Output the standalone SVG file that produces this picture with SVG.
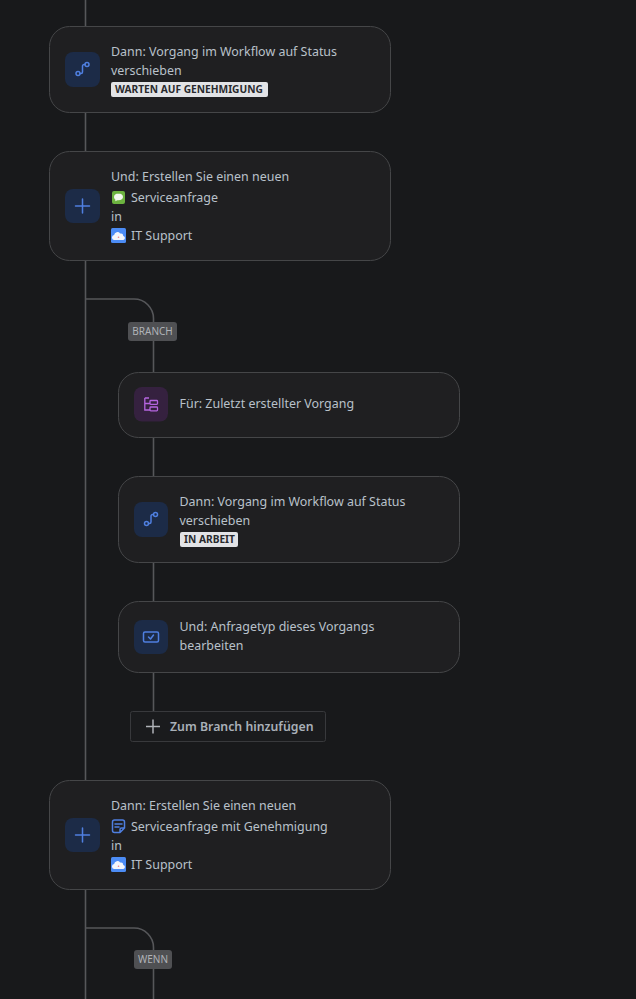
<svg xmlns="http://www.w3.org/2000/svg" width="636" height="999" viewBox="0 0 636 999">
<style>
.card{fill:#1f1f21;stroke:#454648;stroke-width:1}
.ln{fill:none;stroke:#56575a;stroke-width:1.6}
.t{font-family:"Noto Sans","Liberation Sans",sans-serif;font-size:12.45px;fill:#b9c1ca}
.tile-b{fill:#1c2b47}
.tile-p{fill:#35213f}
.ic{fill:none;stroke:#4f7fe0;stroke-width:1.5;stroke-linecap:round;stroke-linejoin:round}
.lz{fill:#e2e3e6}
.lzt{font-family:"Noto Sans","Liberation Sans",sans-serif;font-size:10.2px;font-weight:700;fill:#292a2e}
.tag{fill:#4f5053}
.tagt{font-family:"Noto Sans","Liberation Sans",sans-serif;font-size:10px;fill:#b0b3b8}
</style>
<defs>
<g id="cloud"><rect width="15" height="15" rx="1.500" fill="#4c8cf5"/><path d="M3 12a2.600 2.600 0 0 1 .1-5.100 3.300 3.300 0 0 1 6-1.300 2.600 2.600 0 0 1 3.200 2.300 2.100 2.100 0 0 1 0 4.100z" fill="#f4f6fa"/><circle cx="7.500" cy="9.200" r=".8" fill="#e9808a"/></g>
<g id="route"><circle cx="-4.500" cy="4.500" r="2" class="ic"/><circle cx="4.500" cy="-4.500" r="2" class="ic"/><path class="ic" d="M-2.500 4.500h1a1.500 1.500 0 0 0 1.500-1.500v-6a1.500 1.500 0 0 1 1.500-1.500h1"/></g>
<g id="plus"><path class="ic" d="M-7 0h14M0-7v14"/></g>
</defs>
<rect width="636" height="999" fill="#18191b"/>
<g id="connectors">
<path class="ln" d="M85.500 0V26M85.500 112V152M85.500 260V780M85.500 889V999"/>
<path class="ln" d="M85.500 299H134a19.500 19.500 0 0 1 19.500 19.500V372M153.500 437V476M153.500 562V601M153.500 672V711"/>
<path class="ln" d="M85.500 928H134a19.500 19.500 0 0 1 19.500 19.500V999"/>
</g>
<g id="tag-branch"><rect x="128" y="322" width="49" height="19" rx="3" class="tag"/><text x="152.500" y="335" text-anchor="middle" class="tagt">BRANCH</text></g>
<g id="tag-wenn"><rect x="134" y="950" width="38" height="19" rx="3" class="tag"/><text x="153" y="963" text-anchor="middle" class="tagt">WENN</text></g>
<g id="node-1">
<rect x="49.500" y="26.500" width="341" height="86" rx="20" class="card"/>
<rect x="65" y="52" width="35" height="35" rx="8" class="tile-b"/><use href="#route" x="82.500" y="69"/>
<text x="111" y="56" class="t">Dann: Vorgang im Workflow auf Status</text>
<text x="111" y="75" class="t">verschieben</text>
<rect x="111" y="82" width="157" height="15" rx="2" class="lz"/><text x="115" y="93" class="lzt">WARTEN AUF GENEHMIGUNG</text>
</g>
<g id="node-2">
<rect x="49.500" y="151.500" width="341" height="109" rx="20" class="card"/>
<rect x="65" y="189" width="35" height="34" rx="8" class="tile-b"/><use href="#plus" x="82.500" y="206"/>
<text x="111" y="181" class="t">Und: Erstellen Sie einen neuen</text>
<rect x="112" y="191" width="13" height="13" rx="2" fill="#6cb33f"/><path d="M118.500 193.500c-2.800 0-4.500 1.500-4.500 3.500 0 1.200.6 2.100 1.500 2.700l-.3 1.600 2.200-1c3.600.4 5.600-1.300 5.600-3.300s-1.700-3.500-4.500-3.500z" fill="#f2f7ee"/>
<text x="131" y="202" class="t">Serviceanfrage</text>
<text x="111" y="221" class="t">in</text>
<use href="#cloud" x="111" y="228"/>
<text x="131" y="240" class="t">IT Support</text>
</g>
<g id="node-3">
<rect x="118.500" y="372.500" width="341" height="65" rx="20" class="card"/>
<rect x="134" y="387" width="34" height="34.500" rx="8" class="tile-p"/>
<path d="M144.800 398V410H150M144.800 403.500H150M144.800 398H149" fill="none" stroke="#b565e0" stroke-width="1.300"/>
<rect x="150" y="400.500" width="7.500" height="3.800" rx=".8" fill="#35213f" stroke="#b565e0" stroke-width="1.300"/><rect x="150" y="407" width="7.500" height="3.800" rx=".8" fill="#35213f" stroke="#b565e0" stroke-width="1.300"/>
<text x="179.500" y="408" class="t">Für: Zuletzt erstellter Vorgang</text>
</g>
<g id="node-4">
<rect x="118.500" y="476.500" width="341" height="86" rx="20" class="card"/>
<rect x="134" y="502" width="34" height="35" rx="8" class="tile-b"/><use href="#route" x="151" y="519"/>
<text x="179.500" y="506" class="t">Dann: Vorgang im Workflow auf Status</text>
<text x="179.500" y="525" class="t">verschieben</text>
<rect x="180" y="532" width="58" height="15" rx="2" class="lz"/><text x="184" y="543" class="lzt">IN ARBEIT</text>
</g>
<g id="node-5">
<rect x="118.500" y="601.500" width="341" height="71" rx="20" class="card"/>
<rect x="134" y="620" width="34" height="34" rx="8" class="tile-b"/>
<rect x="143.500" y="632" width="15" height="10" rx="1.500" class="ic"/><path class="ic" d="M148.500 637l2 2 3-4" stroke-width="1.200"/>
<text x="179.500" y="631" class="t">Und: Anfragetyp dieses Vorgangs</text>
<text x="179.500" y="650" class="t">bearbeiten</text>
</g>
<g id="add-branch">
<rect x="130.500" y="711.500" width="195" height="30" rx="2" fill="#1a1b1d" stroke="#38393c"/>
<path d="M146 726.500h14M153 719.500v14" fill="none" stroke="#b0b3b8" stroke-width="1.500"/>
<text x="170" y="731" font-family="Noto Sans, Liberation Sans, sans-serif" font-size="12.300" font-weight="600" fill="#a9b0b8">Zum Branch hinzufügen</text>
</g>
<g id="node-6">
<rect x="49.500" y="780.500" width="341" height="109" rx="20" class="card"/>
<rect x="65" y="818" width="35" height="34" rx="8" class="tile-b"/><use href="#plus" x="82.500" y="835"/>
<text x="111" y="810" class="t">Dann: Erstellen Sie einen neuen</text>
<path class="ic" d="M114.500 820h8a2 2 0 0 1 2 2v6l-4.500 4.500h-5.500a2 2 0 0 1-2-2v-8.500a2 2 0 0 1 2-2zM115 824h7M115 827h4M120 832.500v-3a1.500 1.500 0 0 1 1.500-1.500h3"/>
<text x="131" y="831" class="t">Serviceanfrage mit Genehmigung</text>
<text x="111" y="850" class="t">in</text>
<use href="#cloud" x="111" y="857"/>
<text x="131" y="869" class="t">IT Support</text>
</g>
</svg>
